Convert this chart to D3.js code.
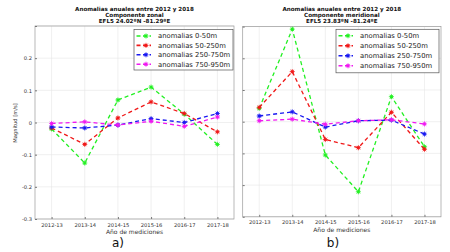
<!DOCTYPE html>
<html>
<head>
<meta charset="utf-8">
<script src="https://cdn.jsdelivr.net/npm/d3@7"></script>
<style>
  body { margin: 0; background: #fff; }
  svg { display: block; }
  text { font-family: "DejaVu Sans", sans-serif; }
</style>
</head>
<body>
<svg id="chart" width="450" height="252"></svg>
<script>
// datos
var years = ["2012-13", "2013-14", "2014-15", "2015-16", "2016-17", "2017-18"];
var seriesNames = ["anomalias 0-50m", "anomalias 50-250m", "anomalias 250-750m", "anomalias 750-950m"];
var yTicks = [-0.3, -0.2, -0.1, 0, 0.1, 0.2, 0.3];
var yTickLabels = ["-0.3", "-0.2", "-0.1", "0", "0.1", "0.2", ""];

// componente zonal
var zonal_0_50     = [-0.020, -0.126, 0.070, 0.110, 0.026, -0.068];
var zonal_50_250   = [-0.017, -0.068, 0.014, 0.064, 0.028, -0.029];
var zonal_250_750  = [-0.014, -0.017, -0.008, 0.012, 0.000, 0.028];
var zonal_750_950  = [-0.003, 0.002, -0.008, 0.004, -0.012, 0.017];

// componente meridional
var merid_0_50     = [0.042, 0.292, -0.105, -0.221, 0.079, -0.079];
var merid_50_250   = [0.045, 0.158, -0.056, -0.082, 0.030, -0.087];
var merid_250_750  = [0.018, 0.031, -0.017, 0.003, 0.005, -0.039];
var merid_750_950  = [0.003, 0.008, -0.008, 0.003, 0.006, -0.007];

var colors = ["#22f022", "#f01818", "#1818f0", "#f018f0"];

var svg = d3.select("#chart");

function drawPanel(cfg) {
  var x = d3.scalePoint().domain(years).range([cfg.left, cfg.right]).padding(0.5);
  var y = d3.scaleLinear().domain([-0.3, 0.3]).range([cfg.bottom, cfg.top]);
  var g = svg.append("g");

  // grid
  g.selectAll(".vgrid").data(years).enter().append("line")
    .attr("x1", function(d) { return x(d); }).attr("x2", function(d) { return x(d); })
    .attr("y1", cfg.top).attr("y2", cfg.bottom)
    .attr("stroke", "#e6e6e6").attr("stroke-width", 0.6);
  g.selectAll(".hgrid").data(yTicks).enter().append("line")
    .attr("x1", cfg.left).attr("x2", cfg.right)
    .attr("y1", function(d) { return y(d); }).attr("y2", function(d) { return y(d); })
    .attr("stroke", "#e6e6e6").attr("stroke-width", 0.6);

  // frame
  g.append("rect")
    .attr("x", cfg.left).attr("y", cfg.top)
    .attr("width", cfg.right - cfg.left).attr("height", cfg.bottom - cfg.top)
    .attr("fill", "none").attr("stroke", "#9a9a9a").attr("stroke-width", 0.7);

  // axes
  var xAxis = d3.axisBottom(x).tickSize(-2).tickPadding(4);
  var gx = g.append("g").attr("transform", "translate(0," + cfg.bottom + ")").call(xAxis);
  gx.select(".domain").remove();
  gx.selectAll("line").attr("stroke", "#777");
  gx.selectAll("text").attr("font-size", 5.2).attr("fill", "#333");

  var yAxis = d3.axisLeft(y).tickValues(yTicks).tickSize(-2).tickPadding(3)
    .tickFormat(function(d, i) { return cfg.yLabels ? yTickLabels[i] : ""; });
  var gy = g.append("g").attr("transform", "translate(" + cfg.left + ",0)").call(yAxis);
  gy.select(".domain").remove();
  gy.selectAll("line").attr("stroke", "#777");
  gy.selectAll("text").attr("font-size", 5.2).attr("fill", "#333");

  // series
  var line = d3.line()
    .x(function(d, i) { return x(years[i]); })
    .y(function(d) { return y(d); });

  cfg.series.forEach(function(vals, k) {
    g.append("path").datum(vals)
      .attr("d", line)
      .attr("fill", "none")
      .attr("stroke", colors[k])
      .attr("stroke-width", 1.3)
      .attr("stroke-dasharray", "4,3");
    vals.forEach(function(v, i) {
      drawMarker(g, x(years[i]), y(v), colors[k]);
    });
  });

  // titles
  var cx = (cfg.left + cfg.right) / 2;
  cfg.title.forEach(function(t, i) {
    svg.append("text").attr("x", cx).attr("y", 11 + i * 5.8)
      .attr("text-anchor", "middle")
      .attr("font-size", 5.6).attr("font-weight", "bold")
      .attr("fill", "#111")
      .text(t);
  });

  svg.append("text").attr("x", cx).attr("y", cfg.bottom + 15)
    .attr("text-anchor", "middle").attr("font-size", 6).attr("fill", "#333")
    .text("Año de mediciones");

  svg.append("text").attr("x", cfg.tagX).attr("y", 247)
    .attr("text-anchor", "middle").attr("font-size", 12).attr("fill", "#111")
    .text(cfg.tag);

  // legend
  var lg = svg.append("g");
  lg.append("rect")
    .attr("x", cfg.legX).attr("y", cfg.legY)
    .attr("width", cfg.legW).attr("height", cfg.legH)
    .attr("fill", "#fff").attr("stroke", "#555").attr("stroke-width", 0.7);
  seriesNames.forEach(function(name, k) {
    var ly = cfg.legY + 6.5 + k * cfg.legStep;
    lg.append("line")
      .attr("x1", cfg.legX + 2.5).attr("x2", cfg.legX + 17)
      .attr("y1", ly).attr("y2", ly)
      .attr("stroke", colors[k]).attr("stroke-width", 1.6)
      .attr("stroke-dasharray", "4,2.5");
    drawMarker(lg, cfg.legX + 12, ly, colors[k]);
    lg.append("text")
      .attr("x", cfg.legX + 24).attr("y", ly + 2.4)
      .attr("font-size", 6.8).attr("fill", "#222")
      .text(name);
  });
}

function drawMarker(g, cx, cy, color) {
  var r = 2.6;
  var m = g.append("g").attr("transform", "translate(" + cx + "," + cy + ")");
  m.append("circle").attr("r", 1.7).attr("fill", color).attr("opacity", 0.85);
  [0, 45, 90, 135].forEach(function(a) {
    var rad = a * Math.PI / 180;
    m.append("line")
      .attr("x1", -r * Math.cos(rad)).attr("y1", -r * Math.sin(rad))
      .attr("x2", r * Math.cos(rad)).attr("y2", r * Math.sin(rad))
      .attr("stroke", color).attr("stroke-width", 0.7);
  });
}

// panel a) y panel b)
drawPanel({
  left: 35, right: 234, top: 26, bottom: 219,
  yLabels: true,
  series: [zonal_0_50, zonal_50_250, zonal_250_750, zonal_750_950],
  title: ["Anomalias anuales entre 2012 y 2018", "Componente zonal", "EFL5  24.02ºN  -81.29ºE"],
  tag: "a)", tagX: 118,
  legX: 134, legY: 29.5, legW: 99, legH: 40.5, legStep: 9.4
});

drawPanel({
  left: 242.7, right: 441, top: 26.6, bottom: 216.8,
  yLabels: false,
  series: [merid_0_50, merid_50_250, merid_250_750, merid_750_950],
  title: ["Anomalias anuales entre 2012 y 2018", "Componente meridional", "EFL5  23.83ºN  -81.24ºE"],
  tag: "b)", tagX: 333,
  legX: 336, legY: 29.3, legW: 103, legH: 43.5, legStep: 10
});

// etiqueta eje y (solo panel izquierdo)
svg.append("text")
  .attr("transform", "translate(17,123) rotate(-90)")
  .attr("text-anchor", "middle").attr("font-size", 5.2).attr("fill", "#333")
  .text("Magnitud [m/s]");
</script>
</body>
</html>
